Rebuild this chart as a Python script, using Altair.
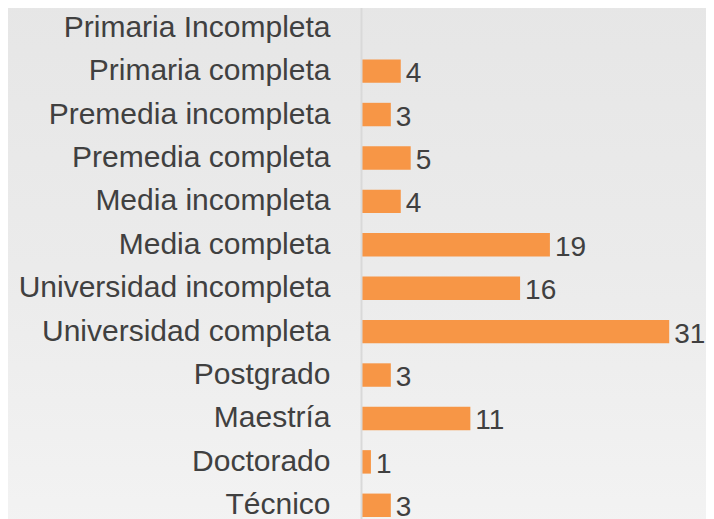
import altair as alt
import pandas as pd

categories = ["Primaria Incompleta", "Primaria completa", "Premedia incompleta",
              "Premedia completa", "Media incompleta", "Media completa",
              "Universidad incompleta", "Universidad completa", "Postgrado",
              "Maestría", "Doctorado", "Técnico"]
values = [0, 4, 3, 5, 4, 19, 16, 31, 3, 11, 1, 3]

df = pd.DataFrame({"cat": categories, "value": values})

FONT = "Liberation Sans"
TXT = "#404040"

y_enc = alt.Y("cat:N", sort=categories,
              scale=alt.Scale(paddingInner=0.46, paddingOuter=0.23),
              axis=alt.Axis(title=None, labelFontSize=30, labelFont=FONT,
                            labelColor=TXT, labelPadding=31, ticks=False,
                            domainColor="#d9d9d9", domainWidth=2,
                            labelLimit=400, zindex=1))
x_enc = alt.X("value:Q", scale=alt.Scale(domain=[0, 34.7], nice=False),
              axis=None)

bg = alt.Chart(pd.DataFrame({"a": [0]})).mark_rect(
    color=alt.Gradient(gradient="linear", x1=0, y1=0, x2=0, y2=1,
                       stops=[alt.GradientStop(color="#e6e6e6", offset=0),
                              alt.GradientStop(color="#ebebeb", offset=0.5),
                              alt.GradientStop(color="#f3f3f3", offset=1)])
).encode(x=alt.value(-370), x2=alt.value(370), y=alt.value(-10), y2=alt.value(530))

bars = alt.Chart(df).mark_bar(color="#F79646").encode(y=y_enc, x=x_enc)

labels = alt.Chart(df).transform_filter("datum.value > 0").mark_text(
    align="left", baseline="middle", dx=5, dy=3, fontSize=28, font=FONT, color=TXT
).encode(y=alt.Y("cat:N", sort=categories), x="value:Q", text="value:Q")

chart = alt.layer(bg, bars, labels).properties(
    width=345, height=521,
    autosize=alt.AutoSizeParams(type="none"),
    padding={"left": 353, "top": -2, "right": 0, "bottom": 0},
    background="#ececec"
).configure_view(stroke=None)

chart.save("out.html", embed_options={"renderer": "svg", "actions": False})
